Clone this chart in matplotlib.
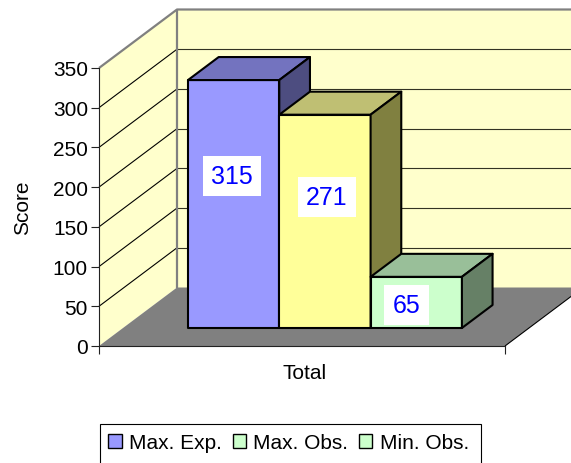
import matplotlib
matplotlib.use("Agg")
import matplotlib.pyplot as plt
from matplotlib.patches import Polygon, Patch, Rectangle

plt.rcParams['font.family'] = ['Liberation Sans', 'DejaVu Sans']

# data
category = "Total"
series = ["Max. Exp.", "Max. Obs.", "Min. Obs."]
values = [315, 271, 65]
y_ticks = [0, 50, 100, 150, 200, 250, 300, 350]

# colours: front, top, side
front = ["#9999FF", "#FFFF99", "#CCFFCC"]
top = ["#7373BF", "#BFBF73", "#99BF99"]
side = ["#4D4D80", "#808040", "#668066"]
legend_colors = ["#9999FF", "#CCFFCC", "#CCFFCC"]

W, H = 571, 464
fig = plt.figure(figsize=(W / 100, H / 100), dpi=100)
# plot box in pixels: x 99..505, y 347..69
ax = fig.add_axes([99 / W, 1 - 347 / H, 406 / W, 278 / H])
ax.set_xlim(0, 1)
ax.set_ylim(0, 350)
ax.patch.set_visible(False)

PX_X = 1 / 406
PX_Y = 350 / 278
DEPTH_PX = 58.5
DX = 78 * PX_X   # full depth of the box
DY = DEPTH_PX * PX_Y


def proj(x, y, d):
    # oblique projection, d = 0 front .. 1 back
    return (x + d * DX, y + d * DY)


def face(pts, color, edge="none", lw=0, z=1):
    ax.add_patch(Polygon(pts, closed=True, facecolor=color, edgecolor=edge,
                         linewidth=lw, clip_on=False, zorder=z, joinstyle="round"))


def line(pts, color, lw, z=2):
    ax.plot([p[0] for p in pts], [p[1] for p in pts], color=color, linewidth=lw,
            clip_on=False, zorder=z, solid_capstyle="butt")


# walls and floor
face([proj(0, 0, 0), proj(0, 350, 0), proj(0, 350, 1), proj(0, 0, 1)], "#FFFFCC")
face([proj(0, 0, 1), proj(0, 350, 1), proj(1, 350, 1), proj(1, 0, 1)], "#FFFFCC")
face([proj(0, 0, 0), proj(1, 0, 0), proj(1, 0, 1), proj(0, 0, 1)], "#808080")

for t in y_ticks[1:-1]:
    line([proj(0, t, 0), proj(0, t, 1)], "#000000", 0.8)
    line([proj(0, t, 1), proj(1, t, 1)], "#333322", 0.8)
line([proj(0, 350, 0), proj(0, 350, 1), proj(1, 350, 1)], "#808080", 1.6)
line([proj(0, 0, 1), proj(0, 350, 1)], "#808080", 1.6)
line([proj(1, 0, 0), proj(1, 0, 1)], "#000000", 0.8)

# bars
D0 = 18 / DEPTH_PX
D1 = 41 / DEPTH_PX
BAR_X0 = (188 - 99) * PX_X - D0 * DX
BAR_W = 91.3 * PX_X
BAR_SCALE = 0.991
for i, v in enumerate(values):
    x0 = BAR_X0 + i * BAR_W
    x1 = x0 + BAR_W
    h = v * BAR_SCALE
    face([proj(x0, 0, D0), proj(x1, 0, D0), proj(x1, h, D0), proj(x0, h, D0)],
         front[i], "black", 1.5, 3 + i)
    face([proj(x0, h, D0), proj(x1, h, D0), proj(x1, h, D1), proj(x0, h, D1)],
         top[i], "black", 1.5, 3 + i)
    face([proj(x1, 0, D0), proj(x1, 0, D1), proj(x1, h, D1), proj(x1, h, D0)],
         side[i], "black", 1.5, 3 + i)

# data labels, pixel centres of the white boxes
label_x = [232, 327, 406.5]
label_y = [177, 198, 306]
for v, lx, ly in zip(values, label_x, label_y):
    ax.text((lx - 99) * PX_X, (347 - ly) * PX_Y, str(v), color="#0000FF", fontsize=18,
            ha="center", va="center", zorder=10, clip_on=False,
            bbox=dict(facecolor="white", edgecolor="none", pad=6))

# axes
for s in ["top", "right"]:
    ax.spines[s].set_visible(False)
ax.spines["left"].set_color("#222222")
ax.spines["bottom"].set_color("#222222")
ax.spines["left"].set_zorder(2)
ax.spines["bottom"].set_zorder(2)
ax.set_yticks(y_ticks)
ax.set_xticks([0, 1])
ax.set_xticklabels(["", ""])
ax.set_xticks([0.507], [category], minor=True)
ax.tick_params(axis="both", which="major", length=6, width=0.8, color="#222222",
               labelsize=15, pad=2)
ax.tick_params(axis="x", which="minor", length=0, labelsize=15, pad=12)
ax.set_ylabel("Score", fontsize=15, labelpad=15)

# legend box runs off the bottom of the picture
fig.add_artist(Rectangle((100 / W, -0.02), 381 / W, 1 - 425 / H + 0.02,
                         transform=fig.transFigure, facecolor="white",
                         edgecolor="black", linewidth=0.8, zorder=1))
handles = [Patch(facecolor=c, edgecolor="black", linewidth=1.0) for c in legend_colors]
leg = fig.legend(handles, series, loc="upper left",
                 bbox_to_anchor=(99 / W, 1 - 425 / H), ncol=3, fontsize=15,
                 frameon=False, handlelength=0.65, handleheight=0.65,
                 handletextpad=0.35, columnspacing=0.5, borderaxespad=0,
                 borderpad=0.45)

fig.savefig("out.png", dpi=100)
